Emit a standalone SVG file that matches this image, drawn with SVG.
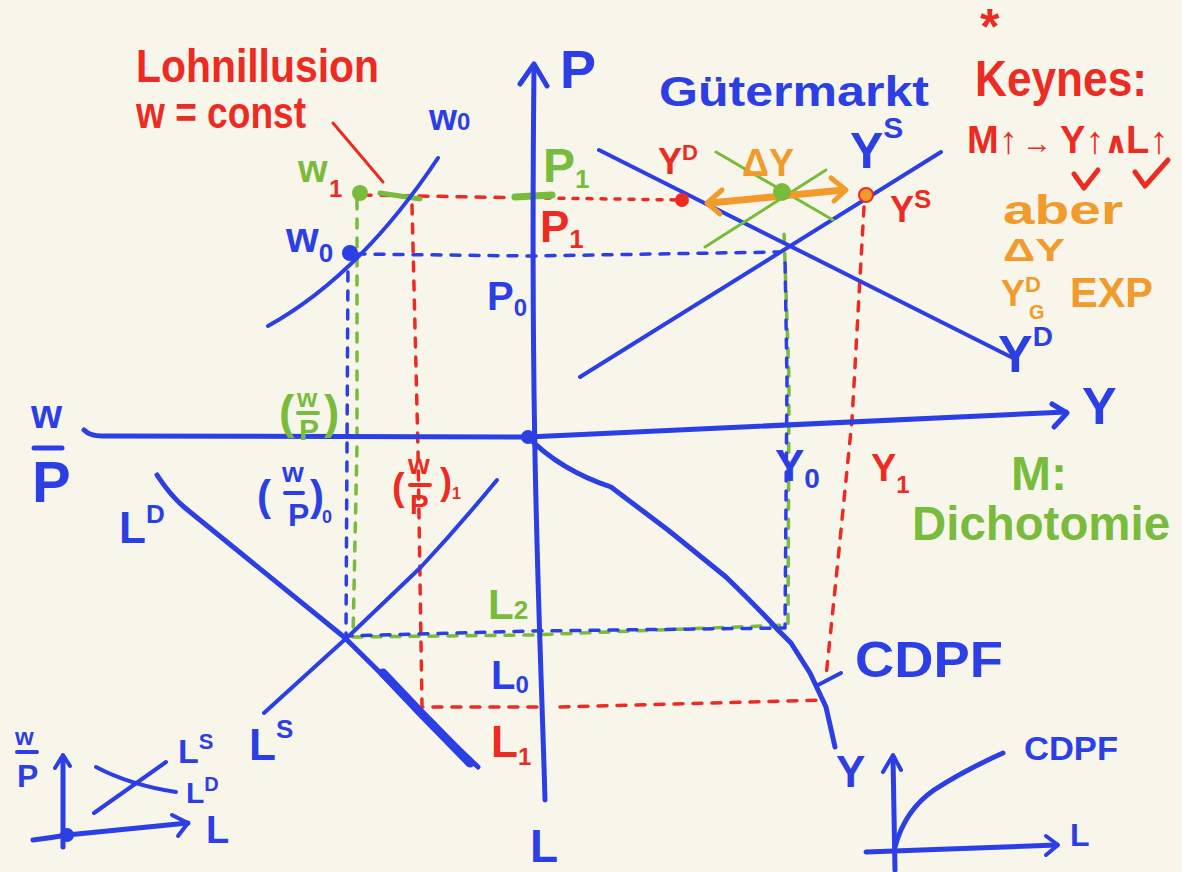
<svg xmlns="http://www.w3.org/2000/svg" width="1182" height="872" viewBox="0 0 1182 872">
<style>
.ln{fill:none;stroke-linecap:round;stroke-linejoin:round}
.b{stroke:#2c3fe4}.r{stroke:#ec2c23}.g{stroke:#79bc3d}.o{stroke:#f09b2b}
.w3{stroke-width:3}.w4{stroke-width:4}.w5{stroke-width:5}.w7{stroke-width:7}
.d{stroke-dasharray:9 10;stroke-width:3.5}
.dt{stroke-dasharray:5 9;stroke-width:3.5}
text{font-family:"Liberation Sans","DejaVu Sans",sans-serif;font-weight:bold}
.tb{fill:#2c3fe4}.tr{fill:#ec2c23}.tg{fill:#79bc3d}.to{fill:#f09b2b}
</style>
<rect width="1182" height="872" fill="#f8f5ea"/>

<g id="connectors">
  <path class="ln r w3" d="M333,123 L383,182"/>
  <path class="ln r d" d="M362,195 L530,198"/>
  <path class="ln r dt" d="M545,198 L682,200"/>
  <path class="ln g w5" d="M380,193 L420,199"/>
  <path class="ln g w7" d="M515,197 L552,195"/>
  <path class="ln b d" d="M356,254 L530,256 L780,252"/>
  <path class="ln r d" d="M412,205 L418,450 L422,707 L540,707"/>
  <path class="ln r d" d="M560,707 L822,700"/>
  <path class="ln g d" d="M357,200 L357,445 L353,637 L530,635 L788,625 L789,380 L784,232"/>
  <path class="ln b d" style="stroke-dashoffset:9" d="M348,262 L346,636 L530,631 L785,628 L787,380 L785,258"/>
  <path class="ln r d" d="M864,207 L852,420 L838,560 L826,677"/>
  <path class="ln b w4" d="M818,685 L841,673"/>
</g>

<g id="axes">
  <path class="ln b w5" d="M545,800 C540,620 530,450 534,66"/>
  <path class="ln b w5" d="M520,84 L534,64 L547,86"/>
  <path class="ln b w5" d="M84,430 Q90,436 102,436 L528,437 L1066,412"/>
  <path class="ln b w5" d="M1052,404 L1067,413 L1054,427"/>
  <circle cx="528" cy="437" r="7" fill="#2c3fe4"/>
</g>

<g id="w0-curve">
  <path class="ln b w4" d="M268,326 Q360,275 438,158"/>
  <circle cx="350" cy="253" r="8" fill="#2c3fe4"/>
  <circle cx="360" cy="193" r="8" fill="#79bc3d"/>
</g>

<g id="goods-market">
  <path class="ln b w4" d="M599,150 L1017,360"/>
  <path class="ln b w4" d="M580,377 L941,152"/>
  <path class="ln g w3" d="M716,152 L833,220"/>
  <path class="ln g w3" d="M705,247 L826,170"/>
  <path class="ln o w7" d="M710,203 L843,190"/>
  <path class="ln o w5" d="M722,190 L707,203 L720,214"/>
  <path class="ln o w5" d="M831,178 L846,190 L834,201"/>
  <circle cx="782" cy="192" r="9" fill="#79bc3d"/>
  <circle cx="682" cy="200" r="7" fill="#ec2c23"/>
  <circle cx="866" cy="195" r="7" fill="#f09b2b" stroke="#ec2c23" stroke-width="2"/>
</g>

<g id="labour-market">
  <path class="ln b w5" d="M157,475 Q170,495 184,507 L344,637 L421,713 L478,767"/>
  <path class="ln b" style="stroke-width:9" d="M383,673 L421,713 L470,763"/>
  <path class="ln b w4" d="M264,713 L352,633 L421,567 Q460,525 497,480"/>
</g>

<g id="cdpf-curve">
  <path class="ln b w5" d="M528,437 Q560,470 611,487 L668,530 L726,577 Q760,610 778,630 L791,643 L810,673 L826,707 L835,747"/>
</g>

<g id="inset-left">
  <path class="ln b w5" d="M63,847 L63,757"/>
  <path class="ln b w4" d="M55,768 L63,755 L70,766"/>
  <path class="ln b w5" d="M33,840 Q50,838 67,835 L188,823"/>
  <path class="ln b w4" d="M172,815 L188,823 L178,836"/>
  <circle cx="67" cy="835" r="7" fill="#2c3fe4"/>
  <path class="ln b w4" d="M94,813 L166,762"/>
  <path class="ln b w4" d="M96,767 Q130,785 176,792"/>
</g>

<g id="inset-right">
  <path class="ln b w5" d="M895,870 L893,757"/>
  <path class="ln b w4" d="M883,772 L893,755 L901,770"/>
  <path class="ln b w5" d="M866,852 L1057,845"/>
  <path class="ln b w4" d="M1046,836 L1058,845 L1046,855"/>
  <path class="ln b w5" d="M895,847 Q905,810 934,790 Q965,770 1003,753"/>
</g>

<g id="labels">
  <text class="tr" x="136" y="82" font-size="46" textLength="243" lengthAdjust="spacingAndGlyphs">Lohnillusion</text>
  <text class="tr" x="136" y="128" font-size="44" textLength="170" lengthAdjust="spacingAndGlyphs">w = const</text>
  <text class="tb" x="429" y="130" font-size="36">w<tspan font-size="24">0</tspan></text>
  <text class="tg" x="298" y="182" font-size="38">w</text>
  <text class="tr" x="329" y="197" font-size="24">1</text>
  <text class="tb" x="286" y="252" font-size="42">w<tspan font-size="26" dy="10">0</tspan></text>
  <text class="tb" x="560" y="88" font-size="54">P</text>
  <text class="tg" x="543" y="182" font-size="48">P<tspan font-size="26" dy="6">1</tspan></text>
  <text class="tr" x="540" y="242" font-size="44">P<tspan font-size="26" dy="6">1</tspan></text>
  <text class="tb" x="487" y="310" font-size="40">P<tspan font-size="24" dy="6">0</tspan></text>

  <text class="tb" x="659" y="106" font-size="42" textLength="270" lengthAdjust="spacingAndGlyphs">Gütermarkt</text>
  <text class="tr" x="658" y="174" font-size="36">Y<tspan font-size="22" dy="-14">D</tspan></text>
  <text class="to" x="742" y="176" font-size="38" textLength="52" lengthAdjust="spacingAndGlyphs">ΔY</text>
  <text class="tb" x="850" y="168" font-size="50">Y<tspan font-size="30" dy="-30">S</tspan></text>
  <text class="tr" x="890" y="222" font-size="36">Y<tspan font-size="26" dy="-14">S</tspan></text>
  <text class="tb" x="998" y="372" font-size="52">Y<tspan font-size="28" dy="-26">D</tspan></text>

  <text class="tr" x="980" y="44" font-size="50">*</text>
  <text class="tr" x="975" y="96" font-size="50" textLength="172" lengthAdjust="spacingAndGlyphs">Keynes:</text>
  <text class="tr" x="967" y="153" font-size="38">M↑</text>
  <text class="tr" x="1022" y="153" font-size="30">→</text>
  <text class="tr" x="1060" y="153" font-size="38">Y↑</text>
  <text class="tr" x="1104" y="153" font-size="30">∧</text>
  <text class="tr" x="1126" y="153" font-size="38">L↑</text>
  <path class="ln r w5" d="M1074,174 L1084,188 L1098,170"/>
  <path class="ln r w5" d="M1135,172 L1145,186 L1168,160"/>
  <text class="to" x="1003" y="224" font-size="40" textLength="120" lengthAdjust="spacingAndGlyphs">aber</text>
  <text class="to" x="1003" y="261" font-size="32" textLength="62" lengthAdjust="spacingAndGlyphs">ΔY</text>
  <text class="to" x="1001" y="306" font-size="36">Y<tspan font-size="22" dy="-14">D</tspan></text>
  <text class="to" x="1029" y="319" font-size="20">G</text>
  <text class="to" x="1070" y="307" font-size="42" textLength="83" lengthAdjust="spacingAndGlyphs">EXP</text>

  <text class="tb" x="1082" y="424" font-size="52">Y</text>
  <text class="tb" x="31" y="428" font-size="40">w</text>
  <path class="ln b w5" d="M34,448 L62,448"/>
  <text class="tb" x="32" y="502" font-size="58">P</text>

  <text class="tg" x="279" y="428" font-size="46">(</text>
  <text class="tg" x="297" y="407" font-size="26">w</text>
  <path class="ln g w4" d="M298,413 L318,413"/>
  <text class="tg" x="299" y="440" font-size="30">P</text>
  <text class="tg" x="324" y="428" font-size="46">)</text>

  <text class="tb" x="257" y="510" font-size="42">(</text>
  <text class="tb" x="282" y="482" font-size="28">w</text>
  <path class="ln b w4" d="M285,493 L303,493"/>
  <text class="tb" x="288" y="526" font-size="32">P</text>
  <text class="tb" x="310" y="510" font-size="42">)</text>
  <text class="tb" x="322" y="523" font-size="18">0</text>

  <text class="tr" x="392" y="500" font-size="38">(</text>
  <text class="tr" x="408" y="474" font-size="28">w</text>
  <path class="ln r w4" d="M410,485 L430,485"/>
  <text class="tr" x="410" y="514" font-size="28">P</text>
  <text class="tr" x="440" y="494" font-size="36">)</text>
  <text class="tr" x="452" y="499" font-size="16">1</text>

  <text class="tb" x="119" y="543" font-size="44">L<tspan font-size="26" dy="-20">D</tspan></text>
  <text class="tb" x="249" y="760" font-size="44">L<tspan font-size="26" dy="-22">S</tspan></text>
  <text class="tg" x="488" y="619" font-size="42">L<tspan font-size="26">2</tspan></text>
  <text class="tb" x="491" y="689" font-size="40">L<tspan font-size="24" dy="4">0</tspan></text>
  <text class="tr" x="491" y="757" font-size="44">L<tspan font-size="24" dy="8">1</tspan></text>
  <text class="tb" x="530" y="862" font-size="46">L</text>

  <text class="tb" x="775" y="481" font-size="44">Y<tspan font-size="28" dy="7">0</tspan></text>
  <text class="tr" x="871" y="481" font-size="38">Y<tspan font-size="24" dy="12">1</tspan></text>
  <text class="tg" x="1011" y="490" font-size="48">M:</text>
  <text class="tg" x="912" y="540" font-size="48" textLength="258" lengthAdjust="spacingAndGlyphs">Dichotomie</text>
  <text class="tb" x="855" y="677" font-size="50" textLength="148" lengthAdjust="spacingAndGlyphs">CDPF</text>

  <text class="tb" x="836" y="787" font-size="44">Y</text>
  <text class="tb" x="1024" y="760" font-size="34" textLength="94" lengthAdjust="spacingAndGlyphs">CDPF</text>
  <text class="tb" x="1070" y="846" font-size="32">L</text>

  <text class="tb" x="15" y="745" font-size="24">w</text>
  <path class="ln b w4" d="M17,752 L37,752"/>
  <text class="tb" x="17" y="787" font-size="32">P</text>
  <text class="tb" x="178" y="763" font-size="34">L<tspan font-size="22" dy="-14">S</tspan></text>
  <text class="tb" x="186" y="803" font-size="30">L<tspan font-size="20" dy="-12">D</tspan></text>
  <text class="tb" x="206" y="843" font-size="38">L</text>
</g>
</svg>
